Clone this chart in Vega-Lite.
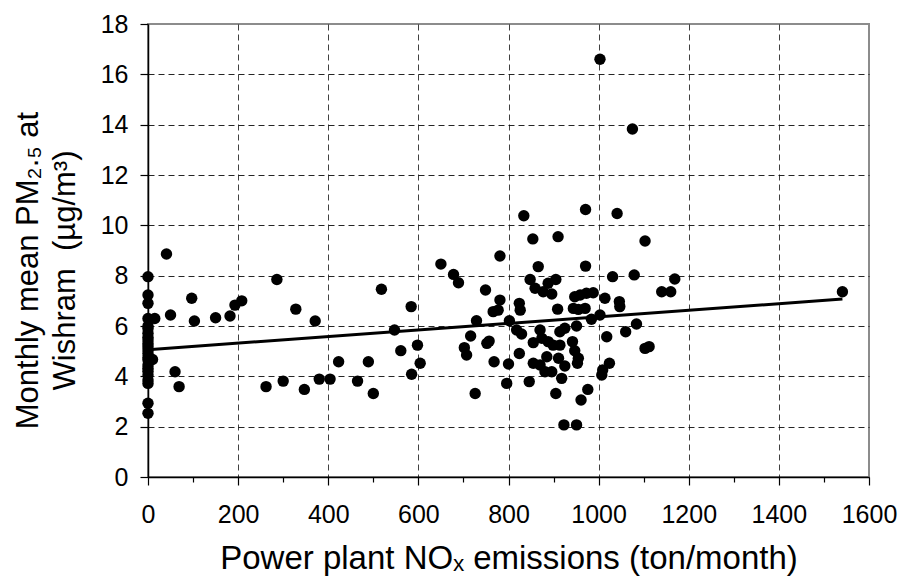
{
  "$schema": "https://vega.github.io/schema/vega-lite/v6.json",
  "width": 721,
  "height": 453,
  "autosize": {"type": "none"},
  "padding": {"left": 148, "top": 24, "right": 32, "bottom": 107},
  "background": "white",
  "config": {
    "font": "Liberation Sans",
    "view": {"stroke": "#8c8c8c", "strokeWidth": 2},
    "axis": {
      "domainColor": "#000000",
      "domainWidth": 1.5,
      "tickColor": "#000000",
      "tickWidth": 1.2,
      "labelColor": "#000000",
      "titleColor": "#000000",
      "labelFont": "Liberation Sans",
      "titleFont": "Liberation Sans",
      "titleFontWeight": "normal",
      "gridColor": "#000000",
      "gridDash": [6, 4],
      "gridWidth": 1,
      "labelOverlap": false,
      "labelBound": false
    }
  },
  "datasets": {
    "points": [
      {"nox": 0, "pm": 7.96}, {"nox": 0, "pm": 7.23}, {"nox": 0, "pm": 6.9}, {"nox": 0, "pm": 6.3},
      {"nox": 0, "pm": 6.0}, {"nox": 0, "pm": 5.9}, {"nox": 0, "pm": 5.71}, {"nox": 0, "pm": 5.55},
      {"nox": 0, "pm": 5.44}, {"nox": 0, "pm": 5.3}, {"nox": 0, "pm": 5.18}, {"nox": 0, "pm": 5.05},
      {"nox": 0, "pm": 4.91}, {"nox": 0, "pm": 4.75}, {"nox": 0, "pm": 4.65}, {"nox": 0, "pm": 4.45},
      {"nox": 0, "pm": 4.32}, {"nox": 0, "pm": 4.2}, {"nox": 0, "pm": 4.05}, {"nox": 0, "pm": 3.85},
      {"nox": 0, "pm": 3.72}, {"nox": 0, "pm": 2.93}, {"nox": 0, "pm": 2.53},
      {"nox": 15, "pm": 6.3}, {"nox": 10, "pm": 4.67},
      {"nox": 41, "pm": 8.86}, {"nox": 97, "pm": 7.1}, {"nox": 50, "pm": 6.44}, {"nox": 103, "pm": 6.2},
      {"nox": 150, "pm": 6.33}, {"nox": 182, "pm": 6.4}, {"nox": 193, "pm": 6.83}, {"nox": 208, "pm": 7.0},
      {"nox": 60, "pm": 4.18}, {"nox": 69, "pm": 3.59},
      {"nox": 262, "pm": 3.59}, {"nox": 286, "pm": 7.85}, {"nox": 300, "pm": 3.81}, {"nox": 328, "pm": 6.67},
      {"nox": 347, "pm": 3.48}, {"nox": 371, "pm": 6.2}, {"nox": 380, "pm": 3.89}, {"nox": 404, "pm": 3.89},
      {"nox": 423, "pm": 4.58}, {"nox": 465, "pm": 3.81}, {"nox": 489, "pm": 4.58}, {"nox": 500, "pm": 3.32},
      {"nox": 518, "pm": 7.46}, {"nox": 547, "pm": 5.84}, {"nox": 561, "pm": 5.02}, {"nox": 584, "pm": 6.77},
      {"nox": 598, "pm": 5.24}, {"nox": 604, "pm": 4.52}, {"nox": 585, "pm": 4.08},
      {"nox": 650, "pm": 8.46}, {"nox": 678, "pm": 8.05}, {"nox": 689, "pm": 7.72}, {"nox": 781, "pm": 8.78},
      {"nox": 854, "pm": 9.46}, {"nox": 910, "pm": 9.55}, {"nox": 866, "pm": 8.36}, {"nox": 971, "pm": 8.38},
      {"nox": 1103, "pm": 9.38}, {"nox": 749, "pm": 7.43}, {"nox": 781, "pm": 7.03}, {"nox": 766, "pm": 6.57},
      {"nox": 777, "pm": 6.63}, {"nox": 729, "pm": 6.21}, {"nox": 716, "pm": 5.6}, {"nox": 702, "pm": 5.14},
      {"nox": 707, "pm": 4.85}, {"nox": 752, "pm": 5.31}, {"nox": 757, "pm": 5.4}, {"nox": 768, "pm": 4.58},
      {"nox": 726, "pm": 3.32}, {"nox": 800, "pm": 4.49}, {"nox": 796, "pm": 3.72}, {"nox": 802, "pm": 6.21},
      {"nox": 824, "pm": 6.9}, {"nox": 826, "pm": 6.63}, {"nox": 818, "pm": 5.84}, {"nox": 829, "pm": 5.68},
      {"nox": 824, "pm": 4.91}, {"nox": 848, "pm": 7.85}, {"nox": 859, "pm": 7.5}, {"nox": 877, "pm": 7.36},
      {"nox": 896, "pm": 7.27}, {"nox": 888, "pm": 7.7}, {"nox": 905, "pm": 7.85}, {"nox": 909, "pm": 6.67},
      {"nox": 870, "pm": 5.84}, {"nox": 855, "pm": 5.34}, {"nox": 874, "pm": 5.51}, {"nox": 888, "pm": 5.38},
      {"nox": 899, "pm": 5.24}, {"nox": 914, "pm": 5.24}, {"nox": 914, "pm": 5.77}, {"nox": 925, "pm": 5.91},
      {"nox": 855, "pm": 4.52}, {"nox": 870, "pm": 4.45}, {"nox": 885, "pm": 4.78}, {"nox": 881, "pm": 4.18},
      {"nox": 896, "pm": 4.18}, {"nox": 911, "pm": 4.72}, {"nox": 925, "pm": 4.41}, {"nox": 846, "pm": 3.79},
      {"nox": 918, "pm": 3.92}, {"nox": 905, "pm": 3.32}, {"nox": 976, "pm": 3.48}, {"nox": 961, "pm": 3.06},
      {"nox": 923, "pm": 2.07}, {"nox": 951, "pm": 2.07}, {"nox": 942, "pm": 5.38}, {"nox": 947, "pm": 5.02},
      {"nox": 955, "pm": 4.72}, {"nox": 953, "pm": 4.52}, {"nox": 951, "pm": 6.0}, {"nox": 944, "pm": 6.7},
      {"nox": 955, "pm": 6.66}, {"nox": 970, "pm": 6.7}, {"nox": 947, "pm": 7.16}, {"nox": 959, "pm": 7.23},
      {"nox": 973, "pm": 7.3}, {"nox": 988, "pm": 7.32}, {"nox": 1014, "pm": 7.1}, {"nox": 984, "pm": 6.27},
      {"nox": 1003, "pm": 6.44}, {"nox": 1031, "pm": 7.96}, {"nox": 1046, "pm": 6.97}, {"nox": 1047, "pm": 6.77},
      {"nox": 1079, "pm": 8.03}, {"nox": 1084, "pm": 6.08}, {"nox": 1060, "pm": 5.77}, {"nox": 1018, "pm": 5.57},
      {"nox": 1024, "pm": 4.52}, {"nox": 1009, "pm": 4.25}, {"nox": 1007, "pm": 4.05}, {"nox": 1103, "pm": 5.11},
      {"nox": 1112, "pm": 5.18}, {"nox": 1140, "pm": 7.36}, {"nox": 1160, "pm": 7.36}, {"nox": 1169, "pm": 7.87},
      {"nox": 1003, "pm": 16.6}, {"nox": 1075, "pm": 13.83}, {"nox": 834, "pm": 10.38}, {"nox": 971, "pm": 10.63},
      {"nox": 1041, "pm": 10.47}, {"nox": 1541, "pm": 7.36}
    ],
    "fit": [
      {"nox": 0, "pm": 5.06},
      {"nox": 1541, "pm": 7.07}
    ]
  },
  "layer": [
    {
      "data": {"name": "points"},
      "mark": {"type": "point", "filled": true, "shape": "circle", "color": "#000000", "opacity": 1, "size": 130},
      "encoding": {
        "x": {
          "field": "nox",
          "type": "quantitative",
          "scale": {"domain": [0, 1600], "nice": false, "zero": false},
          "axis": {
            "title": "Power plant NOₓ emissions (ton/month)",
            "titleFontSize": 33,
            "titlePadding": 15,
            "labelFontSize": 25,
            "labelPadding": 17,
            "labelFlush": false,
            "format": "d",
            "values": [0, 50, 100, 150, 200, 250, 300, 350, 400, 450, 500, 550, 600, 650, 700, 750, 800, 850, 900, 950, 1000, 1050, 1100, 1150, 1200, 1250, 1300, 1350, 1400, 1450, 1500, 1550, 1600],
            "labelExpr": "datum.value % 200 === 0 ? datum.label : ''",
            "tickSize": {"condition": {"test": "datum.value % 200 === 0", "value": 8}, "value": 5},
            "gridOpacity": {"condition": {"test": "datum.value % 200 === 0 && datum.value > 0 && datum.value < 1600", "value": 0.75}, "value": 0}
          }
        },
        "y": {
          "field": "pm",
          "type": "quantitative",
          "scale": {"domain": [0, 18], "nice": false, "zero": false},
          "axis": {
            "title": ["Monthly mean PM₂.₅ at", "Wishram\u00a0 (µg/m³)"],
            "titleFontSize": 31,
            "titleLineHeight": 37,
            "titleX": -104,
            "titleY": 246,
            "labelFontSize": 25,
            "labelPadding": 12,
            "format": "d",
            "values": [0, 1, 2, 3, 4, 5, 6, 7, 8, 9, 10, 11, 12, 13, 14, 15, 16, 17, 18],
            "labelExpr": "datum.value % 2 === 0 ? datum.label : ''",
            "tickSize": {"condition": {"test": "datum.value % 2 === 0", "value": 8}, "value": 6},
            "gridOpacity": {"condition": {"test": "datum.value % 2 === 0 && datum.value > 0 && datum.value < 18", "value": 0.85}, "value": 0}
          }
        }
      }
    },
    {
      "data": {"name": "fit"},
      "mark": {"type": "line", "color": "#000000", "strokeWidth": 3},
      "encoding": {
        "x": {"field": "nox", "type": "quantitative"},
        "y": {"field": "pm", "type": "quantitative"}
      }
    }
  ]
}
